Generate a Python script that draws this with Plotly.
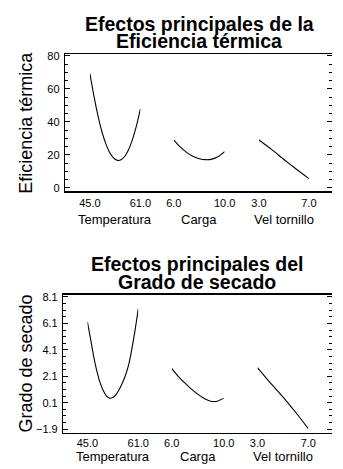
import plotly.graph_objects as go

# ---------------- data ----------------
temp_vals = [45, 46, 47, 48, 49, 50, 51, 52, 53, 54, 55, 56, 57, 58, 59, 60, 61]
carga_vals = [6.0, 6.5, 7.0, 7.5, 8.0, 8.5, 9.0, 9.5, 10.0]
vel_vals = [3, 4, 5, 6, 7]

ef_temp = [69.3, 58.5, 48.6, 40.0, 32.8, 27.0, 22.4, 19.2, 17.3, 16.6, 17.2, 19.0, 22.2, 26.7, 32.6, 39.6, 47.9]
ef_carga = [29.0, 24.8, 21.5, 19.2, 17.7, 17.1, 17.4, 19.0, 22.0]
ef_vel = [29.0, 23.3, 17.2, 11.3, 5.6]

gs_temp = [6.2, 4.9, 3.55, 2.45, 1.6, 1.0, 0.6, 0.45, 0.5, 0.72, 1.1, 1.6, 2.2, 3.0, 4.2, 5.6, 7.2]
gs_carga = [2.7, 2.1, 1.6, 1.15, 0.75, 0.42, 0.22, 0.22, 0.45]
gs_vel = [2.76, 1.62, 0.55, -0.62, -1.86]

factor_names = ["Temperatura", "Carga", "Vel tornillo"]
factor_ranges = [(45, 61), (6, 10), (3, 7)]
factor_ticktext = [["45.0", "61.0"], ["6.0", "10.0"], ["3.0", "7.0"]]

W, H = 343, 469
FONT = "Liberation Sans, Arial, sans-serif"


def fx(p):
    return p / W


def fy(p):
    return 1 - p / H


fig = go.Figure()

panels = [
    dict(
        title=["Efectos principales de la", "Eficiencia térmica"],
        ytitle="Eficiencia térmica",
        xs=[temp_vals, carga_vals, vel_vals],
        ys=[ef_temp, ef_carga, ef_vel],
        plot_px=(58, 51, 190),  # left, top, bottom
        seg_px=[(84.3, 138.3), (174, 228.3), (265, 318.3)],
        yrange=[-2, 81],
        tick0=0, dtick=20, minor=5, fmt="d",
        title_y=(20, 38), title_x=201,
        xlab_y=219, standoff=4,
    ),
    dict(
        title=["Efectos principales del", "Grado de secado"],
        ytitle="Grado de secado",
        xs=[temp_vals, carga_vals, vel_vals],
        ys=[gs_temp, gs_carga, gs_vel],
        plot_px=(56, 295, 435),
        seg_px=[(81.7, 136), (171.7, 227.3), (263.3, 317.7)],
        yrange=[-2.15, 8.28],
        tick0=-1.9, dtick=2, minor=0.5, fmt=".1f",
        title_y=(264, 282), title_x=199,
        xlab_y=459, standoff=2,
    ),
]

layout = dict(
    width=W, height=H,
    margin=dict(l=0, r=0, t=0, b=0),
    paper_bgcolor="white", plot_bgcolor="rgba(0,0,0,0)",
    showlegend=False,
    font=dict(family=FONT, color="black", size=11),
)
annotations = []

for pi, p in enumerate(panels):
    left, top, bottom = p["plot_px"]
    ydom = [fy(bottom), fy(top)]
    yname = "y" if pi == 0 else "y2"
    yrname = "y3" if pi == 0 else "y4"
    frame_x = "x7" if pi == 0 else "x8"
    seg_axes = ["x", "x2", "x3"] if pi == 0 else ["x4", "x5", "x6"]

    common_y = dict(
        domain=ydom, range=p["yrange"], tickmode="linear",
        tick0=p["tick0"], dtick=p["dtick"], ticks="inside", ticklen=5,
        tickwidth=1, tickcolor="black", showgrid=False, zeroline=False,
        minor=dict(ticks="inside", dtick=p["minor"], tick0=p["tick0"], ticklen=3,
                   tickwidth=1, tickcolor="black", showgrid=False),
    )
    layout["yaxis" if pi == 0 else "yaxis2"] = dict(
        **common_y, anchor=frame_x, showline=True, linewidth=1.5, linecolor="black",
        tickformat=p["fmt"], tickfont=dict(size=11, family=FONT, color="black"),
        ticklabelstandoff=2,
    )
    layout["yaxis3" if pi == 0 else "yaxis4"] = dict(
        **common_y, anchor=frame_x, overlaying=yname, side="right",
        showline=False, showticklabels=False,
    )
    layout["xaxis7" if pi == 0 else "xaxis8"] = dict(
        domain=[fx(left), 1], anchor=yname, range=[0, 1],
        showline=True, mirror=True, linewidth=1.5, linecolor="black",
        ticks="", showticklabels=False, showgrid=False, zeroline=False,
    )
    # empty traces so the frame axes exist as subplots
    fig.add_trace(go.Scatter(x=[], y=[], xaxis=frame_x, yaxis=yname, hoverinfo="skip"))
    fig.add_trace(go.Scatter(x=[], y=[], xaxis=frame_x, yaxis=yrname, hoverinfo="skip"))

    for si in range(3):
        a, b = p["seg_px"][si]
        lo, hi = factor_ranges[si]
        axkey = "xaxis" if seg_axes[si] == "x" else "xaxis" + seg_axes[si][1:]
        layout[axkey] = dict(
            domain=[fx(a), fx(b)], anchor=yname, range=[lo, hi],
            tickmode="array", tickvals=[lo, hi], ticktext=factor_ticktext[si],
            ticks="", showline=False, showgrid=False, zeroline=False,
            tickfont=dict(size=11, family=FONT, color="black"),
            ticklabelstandoff=p["standoff"],
        )
        fig.add_trace(go.Scatter(
            x=p["xs"][si], y=p["ys"][si], mode="lines",
            line=dict(color="black", width=1.1, shape="spline", smoothing=0.6),
            xaxis=seg_axes[si], yaxis=yname, hoverinfo="skip", cliponaxis=False,
        ))
        annotations.append(dict(
            text=factor_names[si], xref="paper", yref="paper",
            x=fx((a + b) / 2), y=fy(p["xlab_y"]), xanchor="center", yanchor="middle",
            showarrow=False, font=dict(size=13, family=FONT, color="black"),
        ))

    for li, line in enumerate(p["title"]):
        annotations.append(dict(
            text="<b>" + line + "</b>", xref="paper", yref="paper",
            x=fx(p["title_x"]), y=fy(p["title_y"][li]), xanchor="center", yanchor="middle",
            showarrow=False, font=dict(size=19.5, family=FONT, color="black"),
        ))
    annotations.append(dict(
        text=p["ytitle"], xref="paper", yref="paper", textangle=-90,
        x=fx(16), y=fy((top + bottom) / 2), xanchor="center", yanchor="middle",
        showarrow=False, font=dict(size=18, family=FONT, color="black"),
    ))

layout["annotations"] = annotations
fig.update_layout(**layout)
fig.write_html("out.html", config={"displayModeBar": False, "staticPlot": True},
               post_script="document.body.style.margin='0px';")
